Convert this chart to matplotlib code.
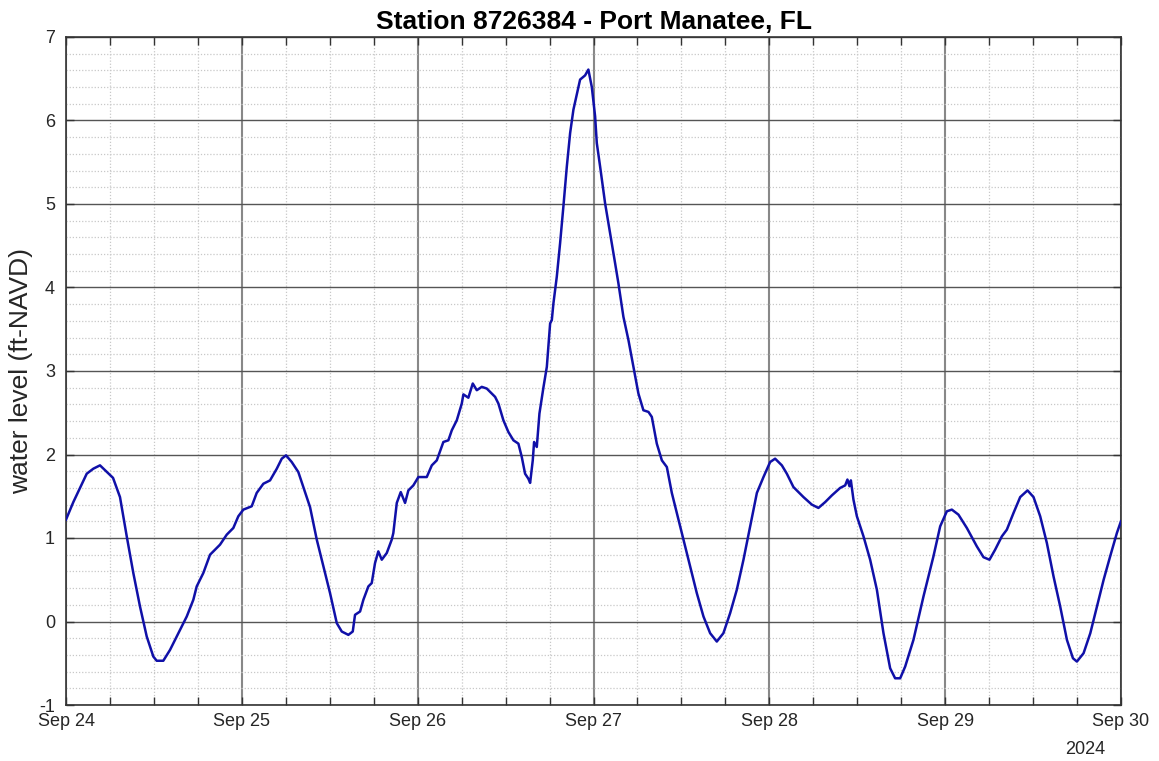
import matplotlib
matplotlib.use("Agg")
import matplotlib.pyplot as plt
import matplotlib.dates as mdates
from matplotlib.ticker import MultipleLocator
import datetime as dt

# ---- data (hours since 2024-09-24 00:00, water level ft-NAVD) ----
hours = [0.0, 1.0, 2.83, 3.73, 4.64, 6.42, 7.37, 8.29, 9.19, 10.10, 11.02, 11.92, 12.38, 13.28,
         14.20, 15.56, 16.48, 17.38, 17.84, 18.74, 19.66, 21.02, 21.94, 22.84, 23.52, 24.21,
         25.35, 26.03, 26.94, 27.85, 28.77, 29.45, 30.03, 30.81, 31.71, 32.40, 33.31, 34.23,
         35.13, 36.04, 36.96, 37.64, 38.54, 39.14, 39.45, 40.14, 40.59, 41.27, 41.73, 42.18,
         42.63, 43.10, 43.78, 44.46, 44.68, 45.15, 45.69, 46.28, 46.73, 47.41, 48.10, 49.24,
         49.93, 50.61, 51.51, 52.19, 52.66, 53.34, 54.02, 54.24, 54.92, 55.52, 56.07, 56.75,
         57.43, 58.12, 58.57, 59.02, 59.70, 60.38, 61.07, 61.75, 62.21, 62.66, 63.11, 63.35,
         63.71, 63.89, 64.26, 64.62, 65.16, 65.63, 66.08, 66.31, 66.53, 66.99, 67.44, 67.89,
         68.36, 68.81, 69.26, 70.17, 70.85, 71.30, 71.77, 72.22, 72.45, 72.90, 73.58, 74.27,
         74.95, 75.40, 76.08, 76.77, 77.45, 78.13, 78.81, 79.50, 79.96, 80.64, 81.33, 82.01,
         82.69, 83.37, 84.27, 85.19, 86.10, 87.01, 87.92, 88.83, 89.73, 90.65, 91.56, 92.47,
         93.38, 94.30, 95.20, 96.11, 96.79, 97.71, 98.39, 99.29, 100.66, 101.80, 102.70, 103.62,
         104.53, 105.67, 106.35, 106.66, 106.94, 107.13, 107.48, 107.95, 108.85, 109.76, 110.68,
         111.58, 112.49, 113.17, 113.86, 114.54, 115.67, 117.04, 118.40, 119.32, 120.23, 120.91,
         121.81, 122.96, 124.32, 125.23, 126.05, 126.82, 127.74, 128.42, 129.33, 130.24, 131.24,
         132.06, 132.97, 133.88, 134.79, 135.70, 136.62, 137.44, 137.98, 138.89, 139.81, 140.72,
         141.63, 142.52, 143.44, 143.99]
level = [1.22, 1.43, 1.77, 1.83, 1.87, 1.72, 1.49, 1.02, 0.58, 0.18, -0.18, -0.42, -0.47, -0.47,
         -0.34, -0.10, 0.06, 0.26, 0.42, 0.58, 0.80, 0.92, 1.04, 1.12, 1.26, 1.34,
         1.38, 1.54, 1.65, 1.69, 1.83, 1.95, 1.99, 1.91, 1.79, 1.61, 1.37, 0.98,
         0.66, 0.34, -0.02, -0.12, -0.16, -0.12, 0.08, 0.12, 0.26, 0.42, 0.46, 0.70,
         0.84, 0.74, 0.82, 0.98, 1.06, 1.42, 1.55, 1.42, 1.57, 1.63, 1.73, 1.73,
         1.87, 1.93, 2.15, 2.17, 2.29, 2.41, 2.61, 2.72, 2.68, 2.85, 2.77, 2.81,
         2.79, 2.73, 2.69, 2.61, 2.41, 2.27, 2.17, 2.13, 1.97, 1.77, 1.71, 1.66,
         1.93, 2.15, 2.09, 2.49, 2.80, 3.05, 3.57, 3.61, 3.81, 4.13, 4.53, 4.97,
         5.45, 5.85, 6.13, 6.49, 6.54, 6.61, 6.40, 6.05, 5.73, 5.45, 5.01, 4.65,
         4.29, 4.05, 3.65, 3.37, 3.05, 2.73, 2.53, 2.51, 2.45, 2.13, 1.93, 1.85,
         1.54, 1.30, 0.98, 0.66, 0.34, 0.06, -0.14, -0.24, -0.14, 0.10, 0.38, 0.74,
         1.14, 1.54, 1.73, 1.91, 1.95, 1.87, 1.77, 1.61, 1.49, 1.40, 1.36, 1.43,
         1.51, 1.60, 1.63, 1.70, 1.62, 1.69, 1.46, 1.26, 1.02, 0.74, 0.38,
         -0.14, -0.56, -0.68, -0.68, -0.54, -0.22, 0.30, 0.78, 1.14, 1.32, 1.34,
         1.28, 1.12, 0.90, 0.77, 0.74, 0.86, 1.02, 1.10, 1.30, 1.49, 1.57,
         1.49, 1.26, 0.94, 0.54, 0.18, -0.22, -0.44, -0.48, -0.38, -0.14, 0.18,
         0.50, 0.78, 1.06, 1.20]
day_labels = ["Sep 24", "Sep 25", "Sep 26", "Sep 27", "Sep 28", "Sep 29", "Sep 30"]
y_ticks = [-1, 0, 1, 2, 3, 4, 5, 6, 7]
title = "Station 8726384 - Port Manatee, FL"
ylabel = "water level (ft-NAVD)"
year_label = "2024"

plt.rcParams['font.family'] = ['Liberation Sans', 'DejaVu Sans']

start = dt.datetime(2024, 9, 24)
times = [start + dt.timedelta(hours=h) for h in hours]
day_ticks = [start + dt.timedelta(days=i) for i in range(len(day_labels))]

W, H = 1159, 761
fig = plt.figure(figsize=(W / 100, H / 100), dpi=100)
ax = fig.add_axes([66 / W, 1 - 705 / H, (1121 - 66) / W, (705 - 37) / H])

ax.plot(times, level, color='#1010a8', lw=1.8, zorder=3)

ax.set_xlim(day_ticks[0], day_ticks[-1])
ax.set_ylim(-1, 7)

ax.set_xticks(day_ticks)
ax.set_xticklabels(day_labels)
ax.xaxis.set_minor_locator(mdates.HourLocator(byhour=[6, 12, 18]))
ax.set_yticks(y_ticks)
ax.set_yticklabels([str(v) for v in y_ticks])
ax.yaxis.set_minor_locator(MultipleLocator(0.2))

ax.tick_params(axis='both', which='major', direction='in', length=6, width=1,
               color='#333333', labelsize=13, labelcolor='#262626', top=True, right=True)
ax.tick_params(axis='x', which='minor', direction='in', length=6, width=1,
               color='#333333', top=True)
ax.tick_params(axis='y', which='minor', length=0)
ax.tick_params(axis='x', which='major', pad=6)
ax.tick_params(axis='y', which='major', pad=8)

ax.grid(True, which='major', axis='y', color='#555555', lw=1.0, ls='-')
ax.grid(True, which='major', axis='x', color='#888888', lw=1.5, ls='-')
ax.grid(True, which='minor', color='#c8c8c8', lw=0.9, ls=(0, (1, 1.5)))
ax.set_axisbelow(True)

for s in ax.spines.values():
    s.set_color('#333333')
    s.set_linewidth(1.2)

ax.set_title(title, fontsize=19, fontweight='bold', color='#000000', pad=6)
ax.set_ylabel(ylabel, fontsize=19, color='#262626', labelpad=4)

fig.text(1085 / W, 1 - 750 / H, year_label, fontsize=13, color='#262626',
         ha='center', va='center')

fig.savefig('out.png', dpi=100, facecolor='white')
